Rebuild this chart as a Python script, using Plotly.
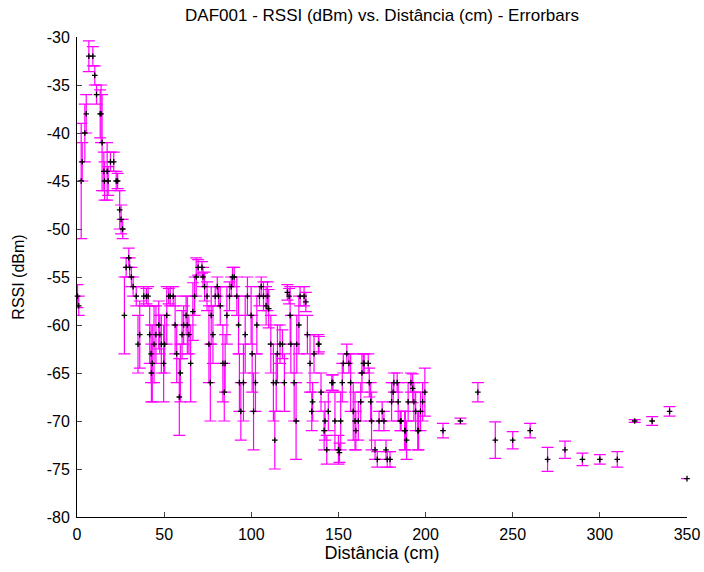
import plotly.graph_objects as go

# Distance (cm), mean RSSI (dBm), error (dBm)
dist = [0.3, 1.0, 2.4, 3.0, 4.5, 5.3, 6.8, 9.1, 10.2, 11.2, 13.3, 13.8, 14.4, 15.4, 17.3,
        15.8, 17.9, 19.2, 21.1, 22.5, 23.3, 24.5, 25.3, 26.2, 27.2, 28.2, 29.7, 30.2, 31.2, 32.2,
        34.0, 35.0, 36.0, 38.3, 39.8, 40.8, 41.7, 42.5, 42.7, 43.2, 44.2, 45.3, 46.9, 47.5, 48.4,
        50.3, 49.7, 51.5, 52.6, 53.5, 55.2, 56.3, 57.2, 58.7, 59.3, 60.3, 61.2, 62.6, 63.3, 64.2,
        65.2, 66.5, 67.5, 68.4, 69.5, 71.7, 72.3, 73.2,
        74.6, 75.7, 76.5, 77.0, 78.0, 79.3, 81.2, 80.5, 82.2, 83.7, 85.0, 84.5, 86.0, 87.5, 88.5,
        89.2, 90.2, 91.7, 92.7, 93.2, 95.5, 94.0, 96.5, 97.8, 99.9, 100.5, 101.3, 102.4, 103.2,
        104.7, 107.0, 109.3, 105.7, 108.5, 110.0, 111.2, 112.7, 114.3, 113.5, 115.0, 116.5, 117.9,
        119.0, 120.7, 121.7, 122.3, 122.7, 124.6, 125.7, 126.1, 127.3, 128.0, 130.3, 131.3, 132.2,
        133.7, 135.2, 134.7, 136.0, 138.5, 138.8,
        140.0, 141.8, 142.3, 143.3, 144.2, 146.2, 146.8, 148.0, 150.0, 150.6, 151.3, 152.2, 152.8,
        154.8, 156.0, 157.0, 158.5, 159.5, 160.0, 161.4, 162.8, 163.5, 164.3, 164.8, 167.1, 167.7,
        168.5, 169.0, 171.0, 172.3, 173.3, 175.1, 176.1, 177.3, 178.0, 179.6, 180.5, 181.4, 181.8,
        183.7, 184.3, 185.5, 186.0, 188.0, 188.4, 189.1, 190.0, 191.6, 192.6, 193.3, 194.3, 195.5,
        196.0, 197.1, 198.3, 199.6,
        210, 220, 230, 240, 250, 260, 270, 280, 290, 300, 310, 320, 330, 340, 350]

rssi = [-57, -58, -45, -43, -40, -38, -32, -32, -34, -36, -38, -38, -41, -44, -44,
        -45, -45, -43, -43, -45, -45, -48, -49, -50, -59, -54, -53, -54, -55, -56,
        -57, -62, -61, -57, -57, -57, -61, -63, -65, -64, -62, -61, -60, -61, -62,
        -62, -64, -59, -57, -57, -57, -60, -63, -67.5, -65, -61, -60, -59, -60, -61,
        -64, -58.6, -57, -55, -54, -54, -55, -56,
        -57, -62, -66, -59, -61, -57, -57, -56, -58, -64, -64, -67, -59, -57, -56,
        -55, -55, -57, -60, -66, -66, -69, -61, -57, -59, -63, -69, -66, -60,
        -57, -57, -57, -56, -58, -58.3, -62, -66, -66, -72, -63, -62, -62,
        -66, -56.6, -57, -59, -62, -66, -70, -62, -60, -57, -57, -57.6, -61,
        -64, -68, -69, -63, -62, -62,
        -67, -71, -70, -73, -69, -66, -66, -70, -73, -73.3, -70, -66, -64,
        -63, -64, -66, -69, -70, -71, -70, -68, -65, -64, -64, -64, -66,
        -68, -70, -73, -74, -70, -69, -70, -73, -74, -74, -68, -67, -66,
        -66, -68, -70, -70, -71, -71, -72, -68, -66, -66.6, -68, -69, -71,
        -71, -69, -68, -67,
        -71, -70, -67, -72, -72, -71, -74, -73, -74, -74, -74, -70, -70, -69, -76]

err = [1.2, 1.0, 6.0, 2.0, 3.0, 2.0, 1.6, 1.0, 1.0, 1.0, 2.5, 3.0, 5.0, 2.0, 3.0,
       2.0, 1.5, 1.0, 1.0, 1.0, 0.8, 2.0, 1.5, 1.0, 4.0, 1.0, 1.0, 1.0, 1.0, 1.0,
       1.0, 3.0, 3.5, 1.0, 0.8, 1.0, 3.0, 3.0, 3.0, 4.0, 4.0, 3.0, 2.5, 2.0, 3.0,
       3.0, 4.0, 3.0, 0.8, 1.0, 1.0, 3.0, 3.0, 4.0, 3.0, 2.5, 2.0, 2.0, 3.0, 2.0,
       4.0, 3.0, 2.0, 2.0, 0.8, 0.6, 1.0, 1.5,
       1.5, 4.0, 4.0, 3.0, 3.0, 1.0, 1.0, 1.0, 2.0, 4.0, 3.0, 3.0, 3.0, 1.5, 1.0,
       1.0, 1.0, 2.0, 3.0, 3.0, 4.0, 3.0, 4.0, 2.0, 3.0, 4.0, 4.0, 3.0, 3.0,
       1.0, 1.5, 1.5, 1.0, 2.0, 2.0, 3.0, 4.0, 3.0, 3.0, 3.0, 2.0, 1.5,
       3.0, 0.8, 0.8, 3.0, 3.0, 4.0, 4.0, 3.0, 3.0, 1.0, 1.0, 1.0, 2.0,
       3.0, 2.0, 2.0, 2.0, 1.0, 0.8,
       2.0, 2.0, 2.0, 1.5, 2.0, 0.8, 0.8, 3.0, 1.5, 1.0, 3.0, 2.0, 1.0,
       1.0, 1.0, 3.0, 3.0, 3.0, 2.0, 2.0, 2.0, 2.0, 1.0, 1.0, 1.0, 1.5,
       2.0, 3.0, 1.0, 0.8, 1.0, 1.0, 1.0, 1.0, 0.8, 0.8, 2.0, 1.0, 1.0,
       1.0, 2.0, 1.0, 1.0, 2.0, 2.0, 2.0, 2.0, 1.0, 1.5, 2.0, 2.0, 2.0,
       2.0, 2.0, 2.0, 2.5,
       0.75, 0.3, 1.0, 1.9, 0.9, 0.75, 1.25, 0.9, 0.65, 0.5, 0.8, 0.15, 0.45, 0.5, 0.0]

x_ticks = [0, 50, 100, 150, 200, 250, 300, 350]
y_ticks = [-80, -75, -70, -65, -60, -55, -50, -45, -40, -35, -30]
y_ticktext = ["-80", "-75", "-70", "-65", "-60", "-55", "-50", "-45", "-40", "-35", "-30"]

FONT = "Liberation Sans, Arial, sans-serif"

W, H = 704, 572

fig = go.Figure()
fig.add_trace(go.Scatter(
    x=dist, y=rssi, mode="markers",
    marker=dict(symbol="cross-thin", size=4, color="black",
                line=dict(color="black", width=1.3)),
    error_y=dict(type="data", array=err, visible=True,
                 color="#FF00FF", thickness=1.2, width=6),
    showlegend=False,
    cliponaxis=False,
))

fig.update_layout(
    width=W, height=H,
    margin=dict(l=77, r=17, t=37, b=55, autoexpand=False),
    paper_bgcolor="white", plot_bgcolor="white",
    font=dict(family=FONT, size=16, color="black"),
    title=dict(text="DAF001 - RSSI (dBm) vs. Distância (cm) - Errorbars",
               x=382 / W, xanchor="center", xref="container",
               y=1 - 15 / H, yanchor="middle", yref="container",
               automargin=False,
               font=dict(size=17, family=FONT, color="black")),
    xaxis=dict(range=[0, 350], tickvals=x_ticks, ticks="inside", ticklen=5,
               showline=True, linecolor="black", linewidth=1, mirror=False,
               showgrid=False, zeroline=False, automargin=False,
               ticklabelstandoff=3,
               title=dict(text="Distância (cm)", standoff=3,
                          font=dict(size=18, family=FONT))),
    yaxis=dict(range=[-80, -30], tickvals=y_ticks, ticktext=y_ticktext,
               ticks="inside", ticklen=5,
               showline=True, linecolor="black", linewidth=1, mirror=False,
               showgrid=False, zeroline=False, automargin=False,
               ticklabelstandoff=3,
               title=dict(text="RSSI (dBm)", standoff=18,
                          font=dict(size=16, family=FONT))),
)

# remove the default 8px page margin so the figure fills the window exactly
fig.write_html("out.html", config={"displayModeBar": False},
               post_script="document.body.style.margin='0';")
